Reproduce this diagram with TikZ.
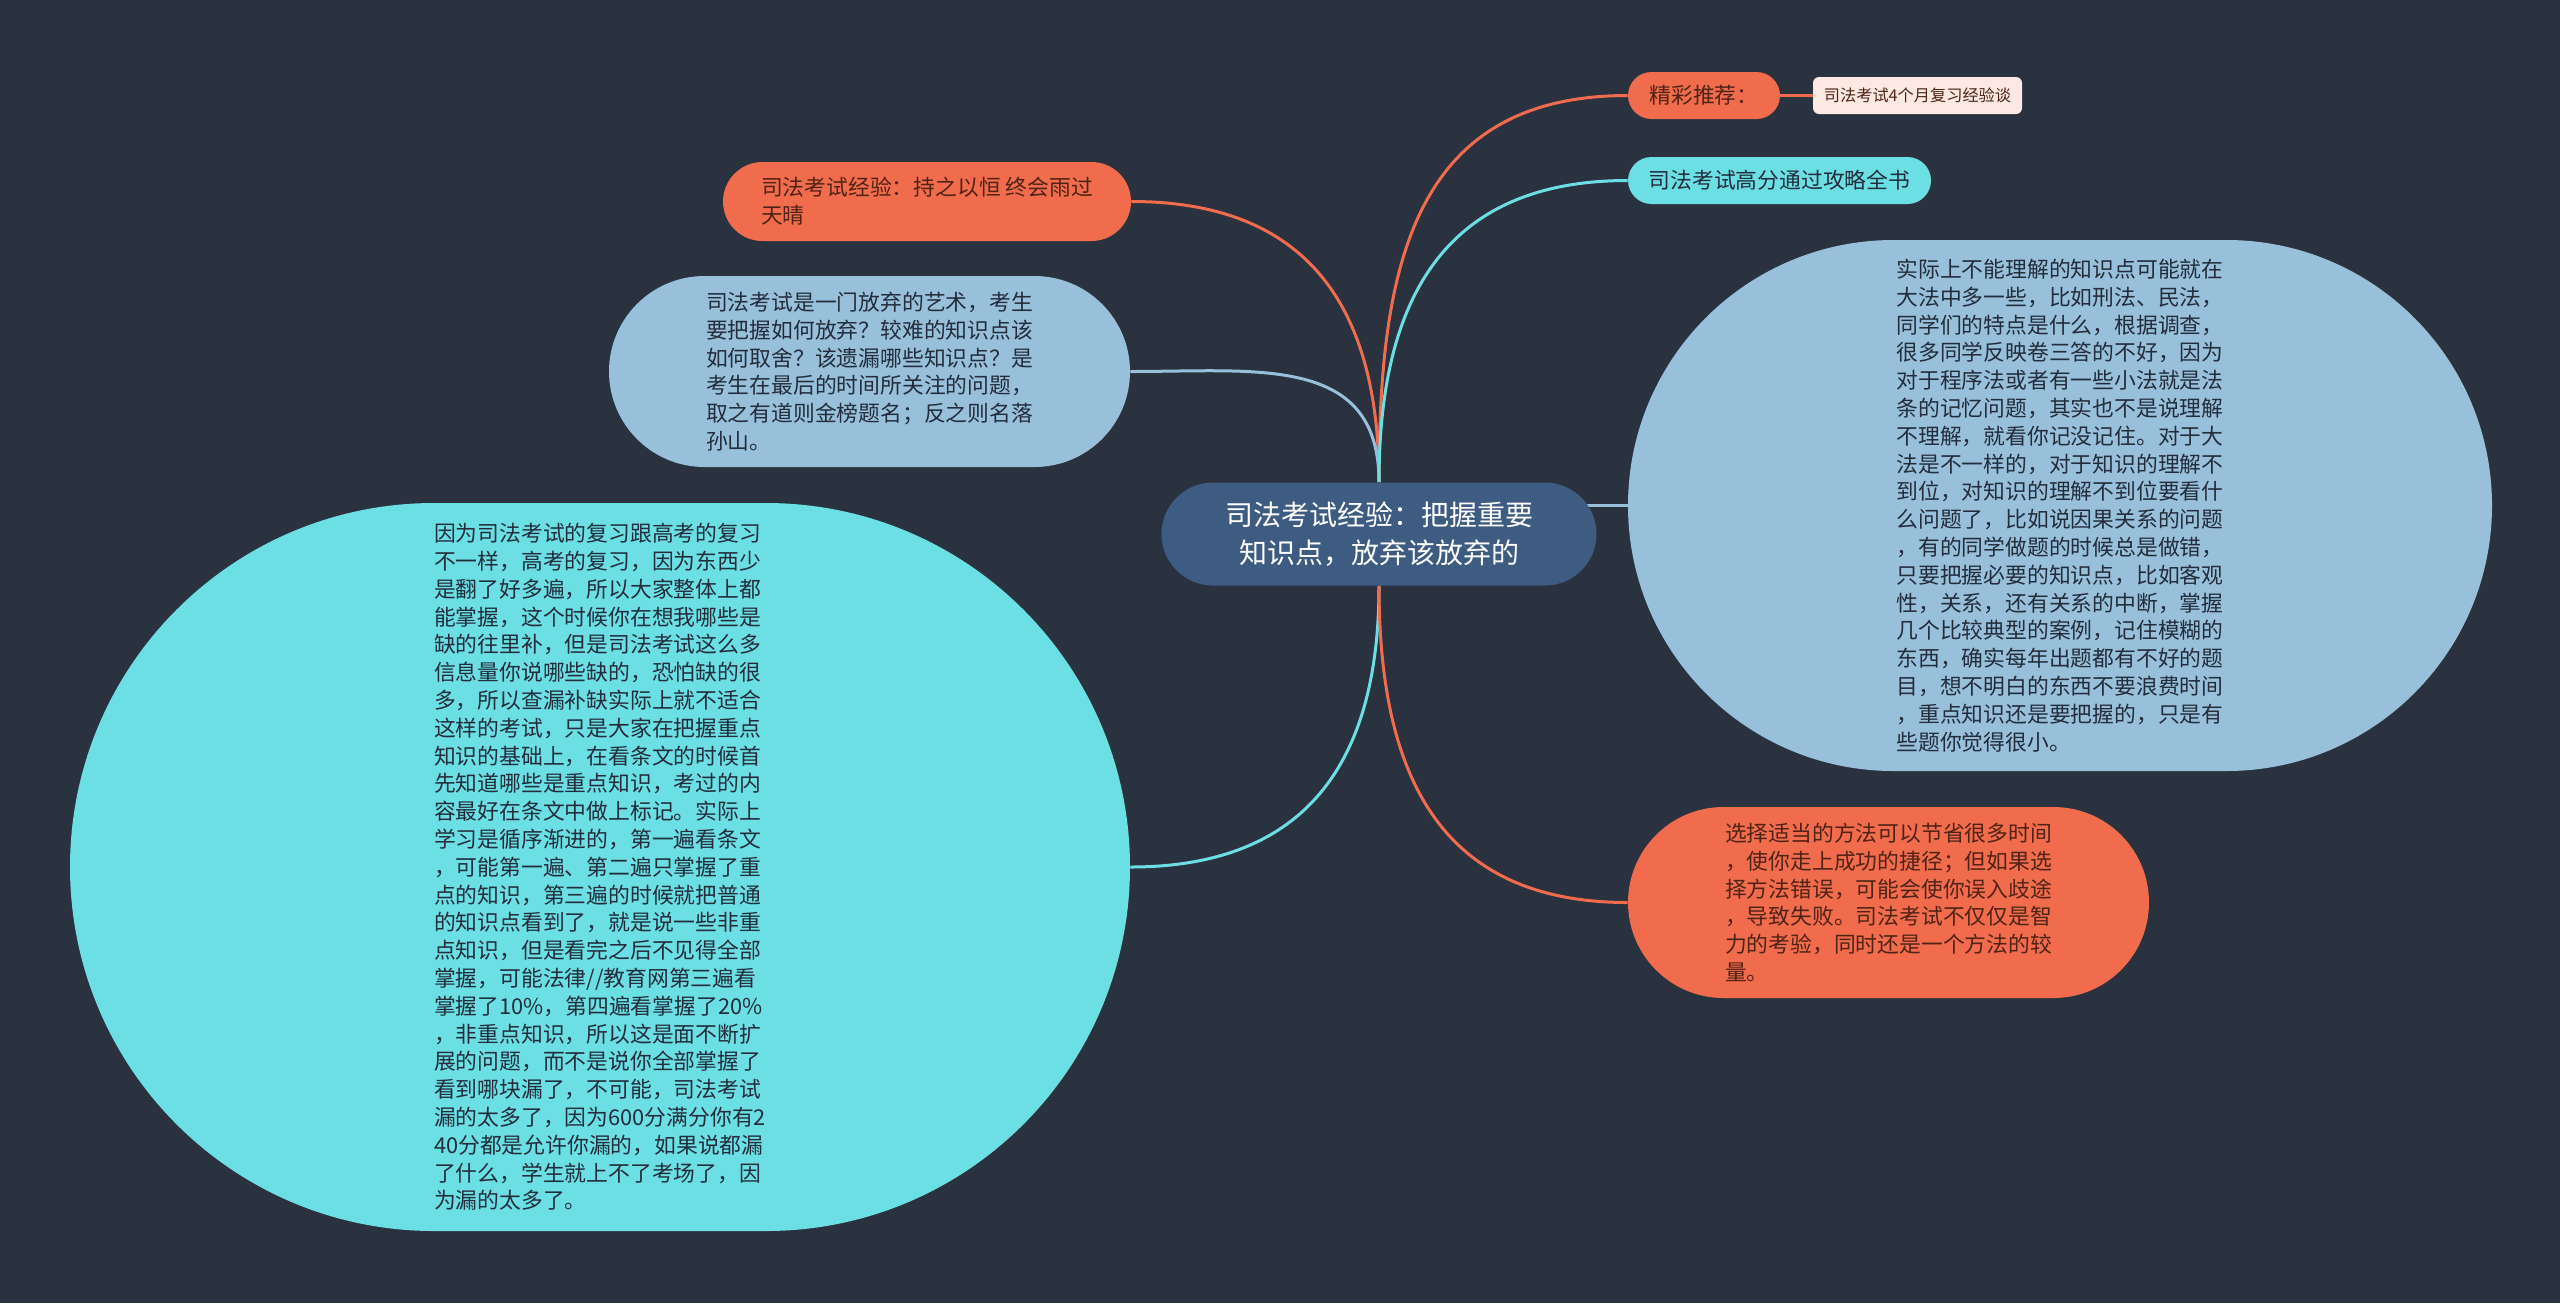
\documentclass[tikz,border=0pt]{standalone}
\usepackage{fontspec}
\setmainfont{Noto Sans CJK SC}
\usetikzlibrary{backgrounds}
\definecolor{bgnavy}{RGB}{42, 50, 64}
\definecolor{hubblue}{RGB}{62, 91, 130}
\definecolor{coral}{RGB}{240, 108, 77}
\definecolor{aqua}{RGB}{108, 223, 228}
\definecolor{skyblue}{RGB}{152, 192, 218}
\definecolor{blush}{RGB}{253, 233, 227}
\definecolor{inkdark}{RGB}{35, 45, 60}
\definecolor{inkbrown}{RGB}{80, 35, 22}

\begin{document}
\begin{tikzpicture}[x=0.5pt, y=-0.5pt,
    hub/.style={rectangle, fill=hubblue, text=white, minimum width=217.5pt, minimum height=51.5pt,
                rounded corners=25.75pt, align=center, font=\fontsize{14}{18.8}\selectfont},
    topic/.style={rectangle, align=left, text=inkdark, inner sep=2pt, font=\fontsize{10.9}{13.9}\selectfont},
    hot/.style={topic, fill=coral, text=inkbrown},
    cool/.style={topic, fill=aqua},
    mist/.style={topic, fill=skyblue},
    tag/.style={rectangle, fill=blush, text=inkbrown, minimum width=104.5pt, minimum height=18.5pt,
                rounded corners=3pt, font=\fontsize{8.1}{10}\selectfont},
    lnk/.style={line width=1.5pt, looseness=1.2}
]
% central topic
\node[hub] (ctr) at (1379, 534) {司法考试经验：把握重要\\知识点，放弃该放弃的};

% right side
\node[hot, minimum width=76pt, minimum height=23.5pt, rounded corners=11.75pt] (jc) at (1704, 95.5) {精彩推荐：};
\node[tag] (jcsub) at (1917.5, 95.5) {司法考试4个月复习经验谈};
\node[cool, minimum width=151.5pt, minimum height=23.5pt, rounded corners=11.75pt] (gf) at (1779.5, 180.5) {司法考试高分通过攻略全书};
\node[mist, minimum width=432pt, minimum height=265.5pt, rounded corners=132.75pt] (rb) at (2060, 505.5)
  {实际上不能理解的知识点可能就在\\
   大法中多一些，比如刑法、民法，\\
   同学们的特点是什么，根据调查，\\
   很多同学反映卷三答的不好，因为\\
   对于程序法或者有一些小法就是法\\
   条的记忆问题，其实也不是说理解\\
   不理解，就看你记没记住。对于大\\
   法是不一样的，对于知识的理解不\\
   到位，对知识的理解不到位要看什\\
   么问题了，比如说因果关系的问题\\
   ，有的同学做题的时候总是做错，\\
   只要把握必要的知识点，比如客观\\
   性，关系，还有关系的中断，掌握\\
   几个比较典型的案例，记住模糊的\\
   东西，确实每年出题都有不好的题\\
   目，想不明白的东西不要浪费时间\\
   ，重点知识还是要把握的，只是有\\
   些题你觉得很小。};
\node[hot, minimum width=260.5pt, minimum height=95.5pt, rounded corners=47.75pt] (ob) at (1888.5, 902.5)
  {选择适当的方法可以节省很多时间\\
   ，使你走上成功的捷径；但如果选\\
   择方法错误，可能会使你误入歧途\\
   ，导致失败。司法考试不仅仅是智\\
   力的考验，同时还是一个方法的较\\
   量。};

% left side
\node[hot, minimum width=204pt, minimum height=39.5pt, rounded corners=19.75pt] (cz) at (927, 201.5)
  {司法考试经验：持之以恒 终会雨过\\天晴};
\node[mist, minimum width=260.5pt, minimum height=95.5pt, rounded corners=47.75pt] (fq) at (869.5, 371.5)
  {司法考试是一门放弃的艺术，考生\\
   要把握如何放弃？较难的知识点该\\
   如何取舍？该遗漏哪些知识点？是\\
   考生在最后的时间所关注的问题，\\
   取之有道则金榜题名；反之则名落\\
   孙山。};
\node[cool, minimum width=530pt, minimum height=364pt, rounded corners=182pt] (lc) at (600, 867)
  {因为司法考试的复习跟高考的复习\\
   不一样，高考的复习，因为东西少\\
   是翻了好多遍，所以大家整体上都\\
   能掌握，这个时候你在想我哪些是\\
   缺的往里补，但是司法考试这么多\\
   信息量你说哪些缺的，恐怕缺的很\\
   多，所以查漏补缺实际上就不适合\\
   这样的考试，只是大家在把握重点\\
   知识的基础上，在看条文的时候首\\
   先知道哪些是重点知识，考过的内\\
   容最好在条文中做上标记。实际上\\
   学习是循序渐进的，第一遍看条文\\
   ，可能第一遍、第二遍只掌握了重\\
   点的知识，第三遍的时候就把普通\\
   的知识点看到了，就是说一些非重\\
   点知识，但是看完之后不见得全部\\
   掌握，可能法律//教育网第三遍看\\
   掌握了10\%，第四遍看掌握了20\%\\
   ，非重点知识，所以这是面不断扩\\
   展的问题，而不是说你全部掌握了\\
   看到哪块漏了，不可能，司法考试\\
   漏的太多了，因为600分满分你有2\\
   40分都是允许你漏的，如果说都漏\\
   了什么，学生就上不了考场了，因\\
   为漏的太多了。};

% backdrop and branches
\begin{scope}[on background layer]
\fill[bgnavy] (0, 0) rectangle (2560, 1303);
\draw[lnk, coral]   (ctr.north) to[out=90, in=0]   (cz.east);
\draw[lnk, skyblue] (ctr.north) to[out=90, in=0]   (fq.east);
\draw[lnk, coral]   (ctr.north) to[out=90, in=180] (jc.west);
\draw[lnk, aqua]    (ctr.north) to[out=90, in=180] (gf.west);
\draw[lnk, skyblue] (ctr.center |- rb.west) -- (rb.west);
\draw[lnk, aqua]    (ctr.south) to[out=-90, in=0]   (lc.east);
\draw[lnk, coral]   (ctr.south) to[out=-90, in=180] (ob.west);
\draw[lnk, coral]   (jc.east) -- (jcsub.west);
\end{scope}
\end{tikzpicture}
\end{document}
